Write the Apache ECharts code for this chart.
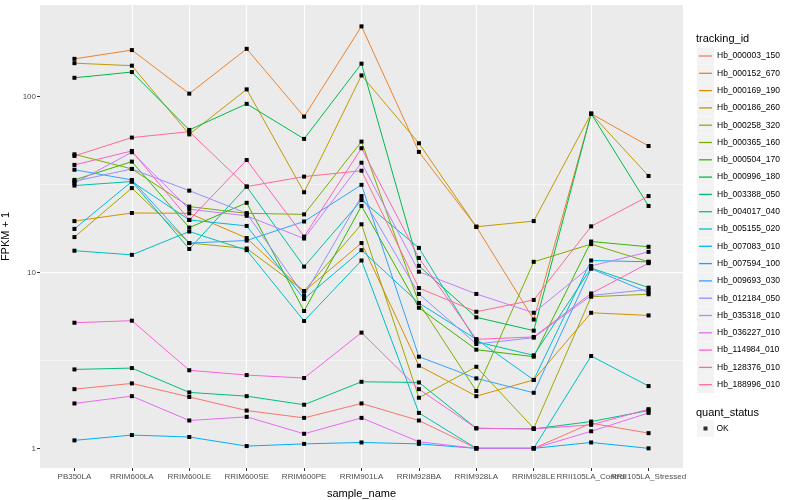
<!DOCTYPE html>
<html><head><meta charset="utf-8">
<script src="https://cdn.jsdelivr.net/npm/echarts@6/dist/echarts.min.js"></script>
<style>html,body{margin:0;padding:0;background:#fff}#c{width:800px;height:500px}</style>
</head><body><div id="c"></div>
<script>
const categories = ['PB350LA','RRIM600LA','RRIM600LE','RRIM600SE','RRIM600PE','RRIM901LA','RRIM928BA','RRIM928LA','RRIM928LE','RRII105LA_Control','RRII105LA_Stressed'];
const trackingIds = ['Hb_000003_150','Hb_000152_670','Hb_000169_190','Hb_000186_260','Hb_000258_320','Hb_000365_160','Hb_000504_170','Hb_000996_180','Hb_003388_050','Hb_004017_040','Hb_005155_020','Hb_007083_010','Hb_007594_100','Hb_009693_030','Hb_012184_050','Hb_035318_010','Hb_036227_010','Hb_114984_010','Hb_128376_010','Hb_188996_010'];
const colors = ['#F8766D','#EA8331','#D89000','#C09B00','#A3A500','#7CAE00','#39B600','#00BB4E','#00BF7D','#00C1A3','#00BFC4','#00BAE0','#00B0F6','#35A2FF','#9590FF','#C77CFF','#E76BF3','#FA62DB','#FF62BC','#FF6C91'];

const hb_000003_150 = [2.17, 2.34, 1.96, 1.64, 1.49, 1.80, 1.44, 1.0, 1.0, 1.39, 1.22];
const hb_000152_670 = [164, 184, 104, 187, 77, 251, 48.5, 18.2, 5.4, 80, 52.4];
const hb_000169_190 = [19.6, 21.8, 21.7, 15.7, 7.8, 14.7, 2.95, 1.98, 2.45, 5.9, 5.7];
const hb_000186_260 = [155, 150, 61, 110, 28.6, 132, 54.3, 18.2, 19.6, 80, 35.4];
const hb_000258_320 = [15.9, 30.2, 14.7, 13.7, 7.85, 18.8, 1.94, 2.91, 1.30, 7.28, 7.52];
const hb_000365_160 = [47.0, 38.8, 23.7, 21.7, 21.4, 55.5, 6.7, 2.12, 11.5, 14.5, 11.5];
const hb_000504_170 = [33.6, 42.7, 18.0, 24.9, 6.04, 23.9, 6.3, 3.64, 3.32, 15.0, 14.0];
const hb_000996_180 = [128, 138, 64.7, 91, 57.5, 154, 10.9, 5.56, 4.67, 80, 23.9];
const hb_003388_050 = [2.81, 2.86, 2.08, 1.98, 1.77, 2.39, 2.37, 1.30, 1.29, 1.42, 1.64];
const hb_004017_040 = [31.2, 32.9, 13.6, 30.8, 10.8, 25.8, 13.8, 4.04, 3.38, 10.6, 8.2];
const hb_005155_020 = [13.3, 12.6, 17.1, 13.4, 5.3, 11.7, 1.59, 1.0, 1.0, 3.35, 2.26];
const hb_007083_010 = [17.7, 32.9, 19.9, 18.4, 7.07, 13.4, 6.7, 4.17, 2.45, 11.7, 11.5];
const hb_007594_100 = [1.11, 1.19, 1.16, 1.03, 1.06, 1.08, 1.06, 1.0, 1.0, 1.08, 1.0];
const hb_009693_030 = [38.4, 33.6, 14.7, 15.2, 19.5, 31.5, 3.32, 2.50, 2.07, 10.5, 7.7];
const hb_012184_050 = [33.0, 38.8, 29.2, 21.7, 7.4, 27.2, 7.55, 3.92, 4.26, 7.4, 8.0];
const hb_035318_010 = [32.2, 48.3, 22.9, 21.0, 15.6, 42.1, 10.1, 7.55, 5.9, 10.9, 13.1];
const hb_036227_010 = [1.80, 1.98, 1.44, 1.51, 1.21, 1.49, 1.09, 1.0, 1.0, 1.25, 1.59];
const hb_114984_010 = [5.18, 5.32, 2.78, 2.61, 2.51, 4.55, 2.17, 1.30, 1.29, 1.36, 1.67];
const hb_128376_010 = [40.9, 49.1, 19.9, 43.6, 16.0, 50.9, 12.1, 4.17, 4.3, 7.6, 11.3];
const hb_188996_010 = [46.0, 58.5, 63.2, 30.8, 35.1, 37.9, 8.16, 5.98, 6.98, 18.3, 27.2];

const seriesValues = [hb_000003_150, hb_000152_670, hb_000169_190, hb_000186_260, hb_000258_320, hb_000365_160, hb_000504_170, hb_000996_180, hb_003388_050, hb_004017_040, hb_005155_020, hb_007083_010, hb_007594_100, hb_009693_030, hb_012184_050, hb_035318_010, hb_036227_010, hb_114984_010, hb_128376_010, hb_188996_010];

const yTicks = [1, 10, 100];
const yMinorTicks = [3.1623, 31.623];
const xTicks = categories.map((c, i) => i);
const xLabelsA = xTicks.filter(i => i % 2 === 0);
const xLabelsB = xTicks.filter(i => i % 2 === 1);

const FONT = '"Liberation Sans", Arial, sans-serif';
const chart = echarts.init(document.getElementById('c'), null, {renderer: 'canvas'});

const series = seriesValues.map((vals, k) => ({
  name: trackingIds[k],
  type: 'line',
  xAxisIndex: 0,
  data: vals.map((v, i) => [i, v]),
  symbol: 'rect',
  symbolSize: 4,
  itemStyle: {color: '#000'},
  lineStyle: {color: colors[k], width: 1},
  emphasis: {disabled: true},
  z: 3
}));
series.push({
  name: 'OK', type: 'scatter', data: [], symbol: 'rect', itemStyle: {color: '#000'}
});
series.push({
  name: 'minor', type: 'line', data: [], silent: true,
  markLine: {silent: true, symbol: 'none', z: 1, label: {show: false},
    lineStyle: {color: '#ffffff', width: 0.5, type: 'solid'},
    data: yMinorTicks.map(v => ({yAxis: v}))}
});

const legendText = {fontSize: 8.5, color: '#000', lineHeight: 12, fontFamily: FONT};
const xLabelStyle = {fontSize: 8, color: '#4D4D4D', margin: 5, hideOverlap: false, fontFamily: FONT, formatter: v => categories[Math.round(v)]};
const option = {
  animation: false,
  backgroundColor: '#ffffff',
  textStyle: {fontFamily: FONT},
  title: [
    {text: 'tracking_id', left: 696, top: 33, padding: 0, textStyle: {fontSize: 11, fontWeight: 'normal', color: '#000', fontFamily: FONT}},
    {text: 'quant_status', left: 696, top: 407, padding: 0, textStyle: {fontSize: 11, fontWeight: 'normal', color: '#000', fontFamily: FONT}}
  ],
  legend: [
    {
      orient: 'vertical', left: 697, top: 47.5, padding: 0, itemGap: 0.3, z: 3,
      icon: 'rect', itemWidth: 17, itemHeight: 17, formatter: ' ',
      textStyle: {fontSize: 6, lineHeight: 6},
      selectedMode: false, inactiveColor: '#F2F2F2',
      data: trackingIds.map(t => ({name: t, icon: 'rect', itemStyle: {color: '#F2F2F2', borderWidth: 0}}))
    },
    {
      orient: 'vertical', left: 699, top: 50, padding: 0, itemGap: 5.3, z: 4,
      icon: 'rect', itemWidth: 13, itemHeight: 1.3,
      textStyle: legendText,
      selectedMode: false,
      data: trackingIds.map((t, k) => ({name: t, itemStyle: {color: colors[k]}}))
    },
    {
      orient: 'vertical', left: 697, top: 420, padding: 0, z: 3,
      icon: 'rect', itemWidth: 17, itemHeight: 17, formatter: ' ',
      textStyle: {fontSize: 6, lineHeight: 6},
      selectedMode: false,
      data: [{name: 'OK', itemStyle: {color: '#F2F2F2'}}]
    },
    {
      orient: 'vertical', left: 703.5, top: 422.5, padding: 0, z: 4,
      icon: 'rect', itemWidth: 4, itemHeight: 4,
      textStyle: {fontSize: 8.5, color: '#000', lineHeight: 12, fontFamily: FONT, padding: [0, 0, 0, 4]},
      selectedMode: false,
      data: [{name: 'OK', itemStyle: {color: '#000'}}]
    }
  ],
  grid: {left: 40, right: 117, top: 5, bottom: 32, show: true, backgroundColor: '#EBEBEB', borderWidth: 0, containLabel: false, outerBoundsMode: 'none'},
  xAxis: [{
    type: 'value', min: -0.6, max: 10.6, position: 'bottom',
    name: 'sample_name', nameLocation: 'middle', nameGap: 20,
    nameTextStyle: {fontSize: 11, color: '#000', fontFamily: FONT},
    axisLine: {show: false, onZero: false},
    axisTick: {show: true, customValues: xTicks, length: 3, lineStyle: {color: '#333', width: 1}},
    axisLabel: Object.assign({customValues: xLabelsA}, xLabelStyle),
    splitLine: {show: true, customValues: xTicks, showMinLine: false, showMaxLine: false, lineStyle: {color: '#fff', width: 1.1}}
  }, {
    type: 'value', min: -0.6, max: 10.6, position: 'bottom', offset: 0,
    axisLine: {show: false, onZero: false},
    axisTick: {show: false},
    axisLabel: Object.assign({customValues: xLabelsB}, xLabelStyle),
    splitLine: {show: false}
  }],
  yAxis: {
    type: 'log', logBase: 10, min: 0.773, max: 332,
    name: 'FPKM + 1', nameLocation: 'middle', nameGap: 27, nameRotate: 90,
    nameTextStyle: {fontSize: 11, color: '#000', fontFamily: FONT},
    axisLine: {show: false, onZero: false},
    axisTick: {show: true, customValues: yTicks, length: 3, lineStyle: {color: '#333', width: 1}},
    axisLabel: {customValues: yTicks, formatter: v => String(Math.round(v)), fontSize: 8, color: '#4D4D4D', margin: 4, showMinLabel: true, showMaxLabel: true, fontFamily: FONT},
    splitLine: {show: true, customValues: yTicks, showMinLine: false, showMaxLine: false, lineStyle: {color: '#fff', width: 1.1}},
    minorTick: {show: false}
  },
  series: series
};
chart.setOption(option);
</script>
</body></html>
